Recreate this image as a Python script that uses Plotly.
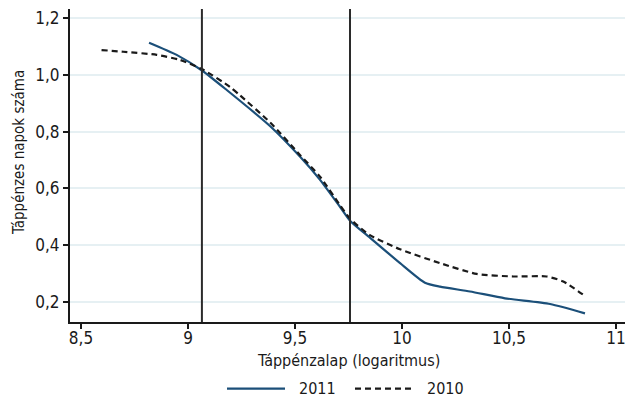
import plotly.graph_objects as go

# ---- data ----
x_2011 = [8.818, 8.947, 9.067, 9.181, 9.383, 9.523, 9.617, 9.710, 9.757,
          9.850, 9.991, 10.107, 10.178, 10.318, 10.481, 10.692, 10.855]
y_2011 = [1.114, 1.071, 1.015, 0.947, 0.820, 0.712, 0.630, 0.535, 0.486,
          0.426, 0.336, 0.267, 0.253, 0.236, 0.212, 0.192, 0.159]

x_2010 = [8.596, 8.698, 8.854, 8.963, 9.067, 9.196, 9.243, 9.383, 9.523, 9.617,
          9.710, 9.757, 9.850, 9.991, 10.178, 10.349, 10.520, 10.676, 10.754, 10.855]
y_2010 = [1.088, 1.082, 1.071, 1.053, 1.020, 0.958, 0.928, 0.833, 0.718, 0.641,
          0.541, 0.493, 0.435, 0.385, 0.336, 0.298, 0.289, 0.289, 0.271, 0.220]

cutoffs = [9.065, 9.757]

x_ticks = [8.5, 9, 9.5, 10, 10.5, 11]
y_ticks = [0.2, 0.4, 0.6, 0.8, 1.0, 1.2]

series_names = ["2011", "2010"]
x_title = "Táppénzalap (logaritmus)"
y_title = "Táppénzes napok száma"

FONT = "DejaVu Sans Condensed, Liberation Sans Narrow, sans-serif"
BLUE = "#1b4f79"
BLACK = "#1a1a1a"
TXT = "#1a1a1a"

fig = go.Figure()
fig.add_trace(go.Scatter(x=x_2011, y=y_2011, mode="lines", name=series_names[0],
                         line=dict(color=BLUE, width=2.2, shape="spline", smoothing=0.6),
                         showlegend=False))
fig.add_trace(go.Scatter(x=x_2010, y=y_2010, mode="lines", name=series_names[1],
                         line=dict(color=BLACK, width=2.2, dash="6px,4px", shape="spline", smoothing=0.6),
                         showlegend=False))

for c in cutoffs:
    fig.add_shape(type="line", xref="x", yref="paper", x0=c, x1=c, y0=0, y1=1,
                  line=dict(color="#2b2b2b", width=2))

# custom legend (key lines + labels)
LEG_Y = -0.213
fig.add_shape(type="line", xref="paper", yref="paper", x0=0.2829, x1=0.3874, y0=LEG_Y, y1=LEG_Y,
              line=dict(color=BLUE, width=2.2))
fig.add_shape(type="line", xref="paper", yref="paper", x0=0.5135, x1=0.6180, y0=LEG_Y, y1=LEG_Y,
              line=dict(color=BLACK, width=2.2, dash="6px,4px"))
fig.add_annotation(text=series_names[0], xref="paper", yref="paper", x=0.4085, y=LEG_Y,
                   xanchor="left", yanchor="middle", showarrow=False,
                   font=dict(family=FONT, size=16, color=TXT))
fig.add_annotation(text=series_names[1], xref="paper", yref="paper", x=0.6396, y=LEG_Y,
                   xanchor="left", yanchor="middle", showarrow=False,
                   font=dict(family=FONT, size=16, color=TXT))

# axis titles
fig.add_annotation(text=x_title, xref="paper", yref="paper", x=0.5027, y=-0.124,
                   xanchor="center", yanchor="middle", showarrow=False,
                   font=dict(family=FONT, size=16, color=TXT))
fig.add_annotation(text=y_title, xref="paper", yref="paper", x=-0.0919, y=0.543,
                   xanchor="center", yanchor="middle", textangle=-90, showarrow=False,
                   font=dict(family=FONT, size=15, color=TXT))

fig.update_layout(
    width=625, height=398,
    margin=dict(l=70, r=0, t=9, b=76),
    paper_bgcolor="white", plot_bgcolor="white",
    separators=", ",
    font=dict(family=FONT, size=17, color=TXT),
    xaxis=dict(range=[8.4486, 11.042], tickvals=x_ticks, showgrid=False, zeroline=False,
               showline=True, linecolor=TXT, linewidth=2, ticks="outside",
               ticklen=5, tickwidth=1.5, tickcolor=TXT, ticklabelstandoff=-5,
               ticklabeloverflow="allow",
               tickfont=dict(family=FONT, size=17)),
    yaxis=dict(range=[0.1284, 1.2328], tickvals=y_ticks, tickformat=".1f",
               showgrid=True, gridcolor="#e6f0f3", gridwidth=1.5, zeroline=False,
               showline=True, linecolor=TXT, linewidth=2, ticks="outside",
               ticklen=5, tickwidth=1.5, tickcolor=TXT,
               tickfont=dict(family=FONT, size=17)),
)

fig.write_html("out.html", config={"displayModeBar": False},
               post_script="document.body.style.margin='0';document.body.style.padding='0';")
